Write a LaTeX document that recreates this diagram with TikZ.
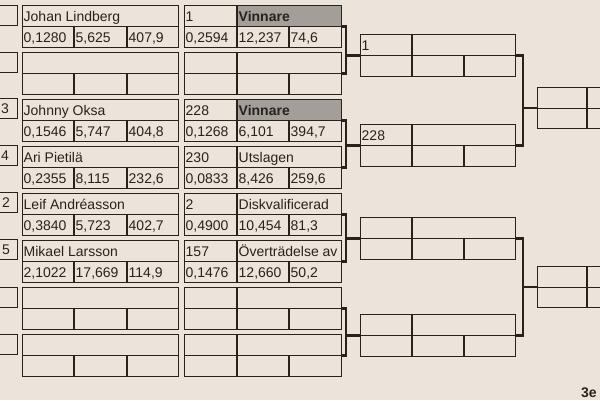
\documentclass[tikz,border=0pt]{standalone}
\usepackage{fontspec}
\setmainfont{Liberation Sans}
\usetikzlibrary{calc}
\definecolor{paper}{RGB}{236,228,218}
\definecolor{ink}{RGB}{40,34,30}
\definecolor{shade}{RGB}{163,158,153}
\tikzset{
  boxn/.style={draw=ink, line width=1.2pt, inner sep=0pt, anchor=north west},
  cellline/.style={draw=ink, line width=1.2pt},
  txt/.style={inner sep=0pt, anchor=base west, font=\fontsize{14}{16}\selectfont, text=ink},
  boldtxt/.style={txt, font=\fontsize{14}{16}\selectfont\bfseries},
  bracket/.style={draw=ink, line width=2.4pt},
}
% left column box: name, top y, player, v1, v2, v3
\newcommand{\Lbox}[6]{%
  \node[boxn, minimum width=156pt, minimum height=42pt] (#1) at (22,#2) {};
  \draw[cellline] (#1.west) -- (#1.east);
  \draw[cellline] ($(#1.south west)+(52,0)$) -- ($(#1.west)+(52,0)$);
  \draw[cellline] ($(#1.south west)+(105,0)$) -- ($(#1.west)+(105,0)$);
  \node[txt] (#1n) at ($(#1.north west)+(1.5,16)$) {#3};
  \node[txt] (#1a) at ($(#1.north west)+(1.5,37)$) {#4};
  \node[txt] (#1b) at ($(#1.north west)+(53.5,37)$) {#5};
  \node[txt] (#1c) at ($(#1.north west)+(106.5,37)$) {#6};
}
% second column box: name, top y, nr, status, v1, v2, v3, fill
\newcommand{\Mbox}[8]{%
  \node[boxn, fill=#8, minimum width=104pt, minimum height=21pt] (#1s) at (237,#2) {};
  \node[boxn, minimum width=157pt, minimum height=42pt] (#1) at (184,#2) {};
  \draw[cellline] (#1.west) -- (#1.east);
  \draw[cellline] ($(#1.south west)+(53,0)$) -- ($(#1.north west)+(53,0)$);
  \draw[cellline] ($(#1.south west)+(105,0)$) -- ($(#1.west)+(105,0)$);
  \node[txt] (#1n) at ($(#1.north west)+(1.5,16)$) {#3};
  \node[boldtxt] (#1t) at ($(#1.north west)+(54.5,16)$) {#4};
  \node[txt] (#1a) at ($(#1.north west)+(1.5,37)$) {#5};
  \node[txt] (#1b) at ($(#1.north west)+(54.5,37)$) {#6};
  \node[txt] (#1c) at ($(#1.north west)+(106.5,37)$) {#7};
}
% third column box: name, top y, nr
\newcommand{\Rbox}[3]{%
  \node[boxn, minimum width=155pt, minimum height=42pt] (#1) at (360,#2) {};
  \draw[cellline] (#1.west) -- (#1.east);
  \draw[cellline] ($(#1.south west)+(52,0)$) -- ($(#1.north west)+(52,0)$);
  \draw[cellline] ($(#1.south west)+(104,0)$) -- ($(#1.west)+(104,0)$);
  \node[txt] (#1n) at ($(#1.north west)+(1.5,16)$) {#3};
}
% fourth column box: name, top y
\newcommand{\Fbox}[2]{%
  \node[boxn, minimum width=120pt, minimum height=41pt] (#1) at (537,#2) {};
  \draw[cellline] (#1.west) -- (#1.east);
  \draw[cellline] ($(#1.south west)+(50,0)$) -- ($(#1.north west)+(50,0)$);
}
% cut-off seed box at the left edge: name, top y, digit, right x of digit
\newcommand{\Sbox}[4]{%
  \node[boxn, minimum width=37pt, minimum height=20pt] (#1) at (-20,#2) {};
  \node[txt, anchor=base east] (#1n) at (#4,#2+15.5) {#3};
}
\begin{document}
\begin{tikzpicture}[x=1pt,y=-1pt]
\useasboundingbox (0,0) rectangle (600,400);
\clip (0,0) rectangle (600,400);
\fill[paper] (0,0) rectangle (600,400);

% seed boxes
\Sbox{s1}{5}{}{10}
\Sbox{s2}{52}{}{10}
\Sbox{s3}{98}{3}{9}
\Sbox{s4}{145}{4}{9}
\Sbox{s5}{192}{2}{10}
\Sbox{s6}{239}{5}{10}
\Sbox{s7}{287}{}{10}
\Sbox{s8}{334}{}{10}

% first column
\Lbox{p1}{5}{Johan Lindberg}{0,1280}{5,625}{407,9}
\Lbox{p2}{52}{}{}{}{}
\Lbox{p3}{99}{Johnny Oksa}{0,1546}{5,747}{404,8}
\Lbox{p4}{146}{Ari Pietilä}{0,2355}{8,115}{232,6}
\Lbox{p5}{193}{Leif Andréasson}{0,3840}{5,723}{402,7}
\Lbox{p6}{240}{Mikael Larsson}{2,1022}{17,669}{114,9}
\Lbox{p7}{287}{}{}{}{}
\Lbox{p8}{334}{}{}{}{}

% second column
\Mbox{m1}{5}{1}{Vinnare}{0,2594}{12,237}{74,6}{shade}
\Mbox{m2}{52}{}{}{}{}{}{paper}
\Mbox{m3}{99}{228}{Vinnare}{0,1268}{6,101}{394,7}{shade}
\Mbox{m4}{146}{230}{\mdseries Utslagen}{0,0833}{8,426}{259,6}{paper}
\Mbox{m5}{193}{2}{\mdseries Diskvalificerad}{0,4900}{10,454}{81,3}{paper}
\Mbox{m6}{240}{157}{\mdseries Överträdelse av}{0,1476}{12,660}{50,2}{paper}
\Mbox{m7}{287}{}{}{}{}{}{paper}
\Mbox{m8}{334}{}{}{}{}{}{paper}

% third column
\Rbox{r1}{34}{1}
\Rbox{r2}{124}{228}
\Rbox{r3}{217}{}
\Rbox{r4}{314}{}

% fourth column
\Fbox{f1}{87}
\Fbox{f2}{266}

% brackets second -> third column
\foreach \a/\b/\c in {m1/m2/r1, m3/m4/r2, m5/m6/r3, m7/m8/r4}{
  \coordinate (\a j) at ($(\a.east)+(4,0)$);
  \draw[bracket] (\a.east) -- (\a j) |- (\b.east);
  \draw[bracket] (\a j |- \c.west) -- (\c.west);
}
% brackets third -> fourth column
\foreach \a/\b/\c in {r1/r2/f1, r3/r4/f2}{
  \coordinate (\a j) at ($(\a.east)+(7,0)$);
  \draw[bracket] (\a.east) -- (\a j) |- (\b.east);
  \draw[bracket] (\a j |- \c.west) -- (\c.west);
}

\node[boldtxt] (third) at (581,397) {3e};
\end{tikzpicture}
\end{document}
